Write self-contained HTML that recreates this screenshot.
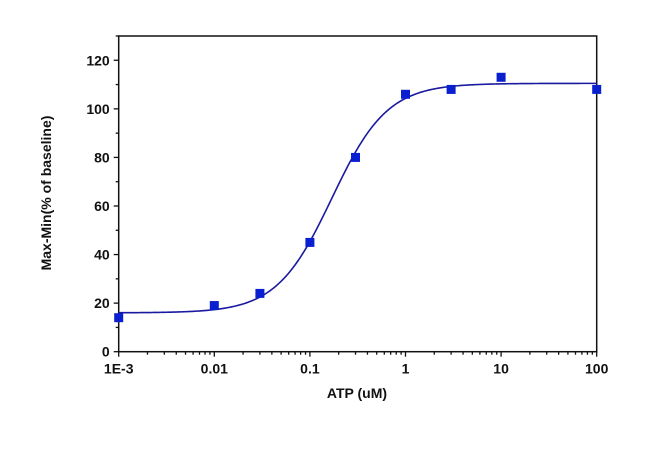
<!DOCTYPE html>
<html><head><meta charset="utf-8"><style>
html,body{margin:0;padding:0;background:#fff;}
svg text{font-family:"Liberation Sans",Arial,sans-serif;font-weight:bold;fill:#111;}
</style></head><body>
<svg id="chart" width="650" height="444" xmlns="http://www.w3.org/2000/svg">
<g id="axes"></g>
<g id="series"></g>
<text x="357" y="398" text-anchor="middle" font-size="14">ATP (uM)</text>
<text transform="translate(51,193) rotate(-90)" text-anchor="middle" font-size="14">Max-Min(% of baseline)</text>
</svg>
<script>
const xValues=[0.001,0.01,0.03,0.1,0.3,1,3,10,100];
const yValues=[14,19,24,45,80,106,108,113,108];
const xTickValues=[0.001,0.01,0.1,1,10,100];
const xTickLabels=["1E-3","0.01","0.1","1","10","100"];
const yTickValues=[0,20,40,60,80,100,120];
const fitParams=[16,110.5,0.17,1.5]; // bottom, top, EC50, hill

const NS="http://www.w3.org/2000/svg";
const L=118.7,R=596.7,T=36,B=351.7,yMax=130;
const xs=v=>L+(Math.log10(v)+3)/5*(R-L);
const ys=v=>B-v/yMax*(B-T);
function mk(tag,attrs,parent){const e=document.createElementNS(NS,tag);for(const k in attrs)e.setAttribute(k,attrs[k]);parent.appendChild(e);return e;}
const ax=document.getElementById('axes'),se=document.getElementById('series');
let box=mk('rect',{x:L,y:T,width:R-L,height:B-T,fill:'none',stroke:'#111','stroke-width':1.5},ax);


for(let v=0;v<=yMax;v+=10){
 const major=v%20===0;
 let t=mk('line',{x1:L-(major?5:3),x2:L,y1:ys(v),y2:ys(v),stroke:'#111','stroke-width':1.3},ax);
 
 
}
yTickValues.forEach(v=>{
 let t=mk('text',{x:L-9,y:ys(v)+5,'text-anchor':'end','font-size':14},ax);t.textContent=v;
 
 
});
for(let d=-3;d<2;d++){for(let m=1;m<10;m++){
 const v=m*Math.pow(10,d);
 let t=mk('line',{x1:xs(v),x2:xs(v),y1:B,y2:B+(m===1?5:3),stroke:'#111','stroke-width':1.3},ax);
 
 
}}
mk('line',{x1:R,x2:R,y1:B,y2:B+5,stroke:'#111','stroke-width':1.3},ax);
xTickValues.forEach((v,i)=>{
 let t=mk('text',{x:xs(v),y:B+22,'text-anchor':'middle','font-size':14},ax);t.textContent=xTickLabels[i];
 
 
});
const [b0,t0,ec,h]=fitParams;
let d="";
for(let i=0;i<=300;i++){const lx=-3+5*i/300,v=Math.pow(10,lx);const y=b0+(t0-b0)/(1+Math.pow(ec/v,h));d+=(i?"L":"M")+xs(v).toFixed(2)+","+ys(y).toFixed(2);}
let c=mk('path',{d:d,fill:'none',stroke:'#1a1aa0','stroke-width':1.6},se);


xValues.forEach((v,i)=>{
 let p=mk('rect',{x:xs(v)-4.5,y:ys(yValues[i])-4.5,width:9,height:9,fill:'#0a1fd0'},se);
 
 
});
</script>
</body></html>
